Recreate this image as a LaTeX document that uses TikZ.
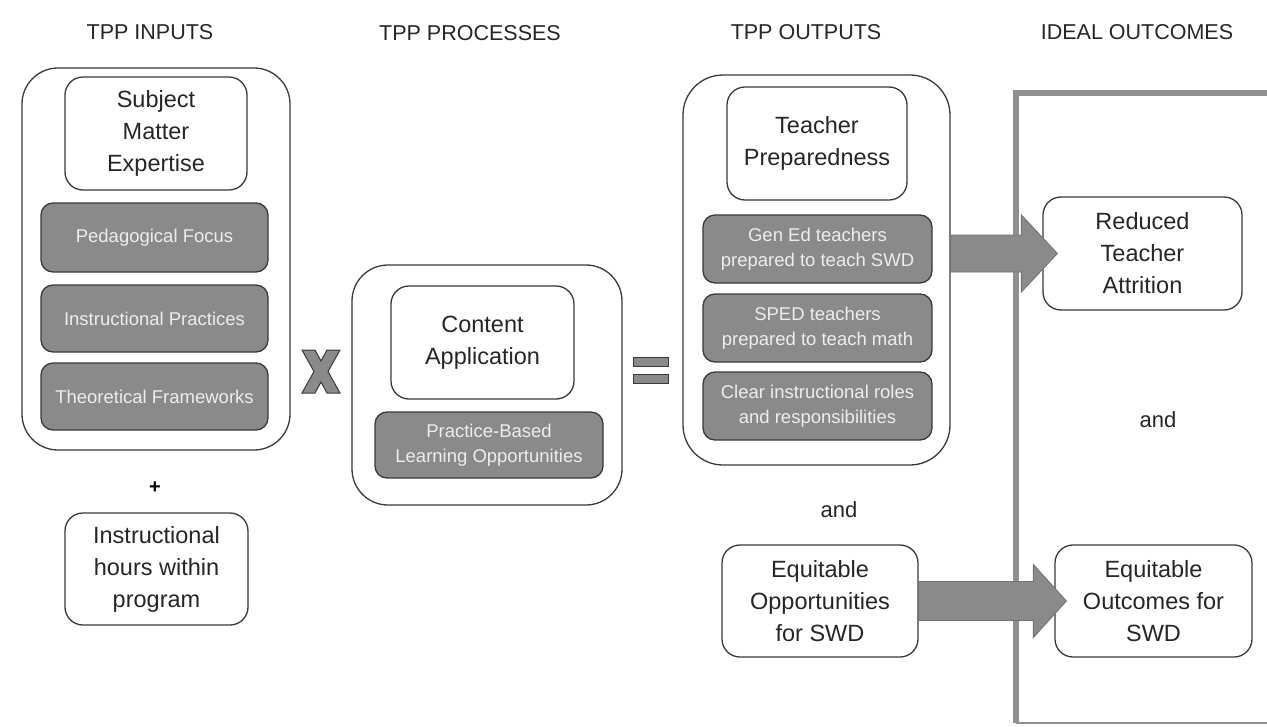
\documentclass[tikz,border=0pt]{standalone}
\usepackage{fontspec}
\setmainfont{Liberation Sans}
\usetikzlibrary{calc}
\definecolor{boxgray}{HTML}{8A8A8A}
\definecolor{boxtext}{HTML}{EDEDED}
\definecolor{edgegray}{HTML}{3A3A3A}
\definecolor{framegray}{HTML}{8F8F8F}
\newcommand\bodyfnt{\fontsize{23.5}{32}\selectfont}
\newcommand\grayfnt{\fontsize{18.5}{25}\selectfont}
\newcommand\headfnt{\fontsize{21.5}{26}\selectfont}
\tikzset{
  outerbox/.style={draw=edgegray, line width=1.3pt, rounded corners=36pt, inner sep=0pt},
  whitebox/.style={draw=edgegray, line width=1.3pt, rounded corners=18pt, fill=white, align=center, font=\bodyfnt, text=black!85, inner sep=0pt},
  graybox/.style={draw=edgegray, line width=1.3pt, rounded corners=12pt, fill=boxgray, align=center, font=\grayfnt, text=boxtext, inner sep=0pt},
  heading/.style={font=\headfnt, text=black!85},
  plaintext/.style={font=\bodyfnt, text=black!85},
  fatarrow/.style={fill=boxgray, draw=black!55, line width=0.9pt},
  opsign/.style={fill=boxgray, draw=edgegray, line width=1pt},
  framestyle/.style={draw=framegray, line width=6pt},
}
\begin{document}
\begin{tikzpicture}[x=1pt,y=-1pt]
\useasboundingbox (0,0) rectangle (1267,726);
\fill[white] (0,0) rectangle (1267,726);

% headings
\node[heading] (h1) at (150,32) {TPP INPUTS};
\node[heading] (h2) at (470,33) {TPP PROCESSES};
\node[heading] (h3) at (806,32) {TPP OUTPUTS};
\node[heading] (h4) at (1137,32) {IDEAL OUTCOMES};

% ideal outcomes frame
\draw[framestyle] (1300,93) -- (1016,93) -- (1016,723);
\draw[draw=framegray, line width=2pt] (1016,723) -- (1300,723);

% inputs
\node[outerbox, minimum width=268pt, minimum height=382pt] (inbox) at (156,259) {};
\node[whitebox, minimum width=182pt, minimum height=113pt] (sme) at (156,133.5) {Subject\\Matter\\Expertise};
\node[graybox, minimum width=227pt, minimum height=69pt] (ped) at (154.5,237.5) {Pedagogical Focus};
\node[graybox, minimum width=227pt, minimum height=67pt] (ip) at (154.5,318.5) {Instructional Practices};
\node[graybox, minimum width=227pt, minimum height=67pt] (tf) at (154.5,396.5) {Theoretical Frameworks};
\node[font=\fontsize{20}{24}\selectfont\bfseries] (plus) at (155,488) {+};
\node[whitebox, minimum width=183pt, minimum height=112pt] (hours) at (156.5,569) {Instructional\\hours within\\program};

% X sign
\draw[opsign] (302,350) -- (315,350) -- (321,361) -- (327,350) -- (340,350) -- (328,371.5)
  -- (340,393) -- (327,393) -- (321,382) -- (315,393) -- (302,393) -- (314,371.5) -- cycle;

% processes
\node[outerbox, minimum width=270pt, minimum height=240pt] (procbox) at (487,385) {};
\node[whitebox, minimum width=183pt, minimum height=113pt] (ca) at (482.5,342.5) {Content\\Application};
\node[graybox, minimum width=228pt, minimum height=66pt] (pbl) at (489,445) {Practice-Based\\Learning Opportunities};

% equals sign
\draw[opsign] (633,357) rectangle (668,366);
\draw[opsign] (633,374) rectangle (668,383);

% outputs
\node[outerbox, rounded corners=40pt, minimum width=267pt, minimum height=390pt] (outbox) at (816.5,270) {};
\node[whitebox, minimum width=180pt, minimum height=113pt] (tp) at (817,143.5) {Teacher\\Preparedness};
\node[graybox, minimum width=229pt, minimum height=68pt] (gened) at (817.5,249) {Gen Ed teachers\\prepared to teach SWD};
\node[graybox, minimum width=229pt, minimum height=68pt] (sped) at (817.5,328) {SPED teachers\\prepared to teach math};
\node[graybox, minimum width=229pt, minimum height=68pt] (clear) at (817.5,406) {Clear instructional roles\\and responsibilities};
\node[plaintext, font=\fontsize{22}{26}\selectfont] (and1) at (839,510) {and};
\node[whitebox, minimum width=196pt, minimum height=112pt] (eqopp) at (820,601) {Equitable\\Opportunities\\for SWD};

% ideal outcomes
\node[whitebox, minimum width=199pt, minimum height=113pt] (reduced) at (1142.5,253.5) {Reduced\\Teacher\\Attrition};
\node[plaintext, font=\fontsize{22}{26}\selectfont] (and2) at (1158,420) {and};
\node[whitebox, minimum width=197pt, minimum height=112pt] (eqout) at (1153.5,601) {Equitable\\Outcomes for\\SWD};

% fat arrows
\draw[fatarrow] let \p1=(outbox.east |- reduced.west), \p2=($(reduced.west)+(15,0)$) in
  (\x1,\y1+18.5pt) -- (\x2-36pt,\y1+18.5pt) -- (\x2-36pt,\y1+38.5pt) -- (\x2,\y1)
  -- (\x2-36pt,\y1-38.5pt) -- (\x2-36pt,\y1-18.5pt) -- (\x1,\y1-18.5pt) -- cycle;
\draw[fatarrow] let \p1=(eqopp.east), \p2=($(eqout.west)+(12,0)$) in
  (\x1,\y1+19.5pt) -- (\x2-33pt,\y1+19.5pt) -- (\x2-33pt,\y1+36.5pt) -- (\x2,\y1)
  -- (\x2-33pt,\y1-36.5pt) -- (\x2-33pt,\y1-19.5pt) -- (\x1,\y1-19.5pt) -- cycle;
\end{tikzpicture}
\end{document}
